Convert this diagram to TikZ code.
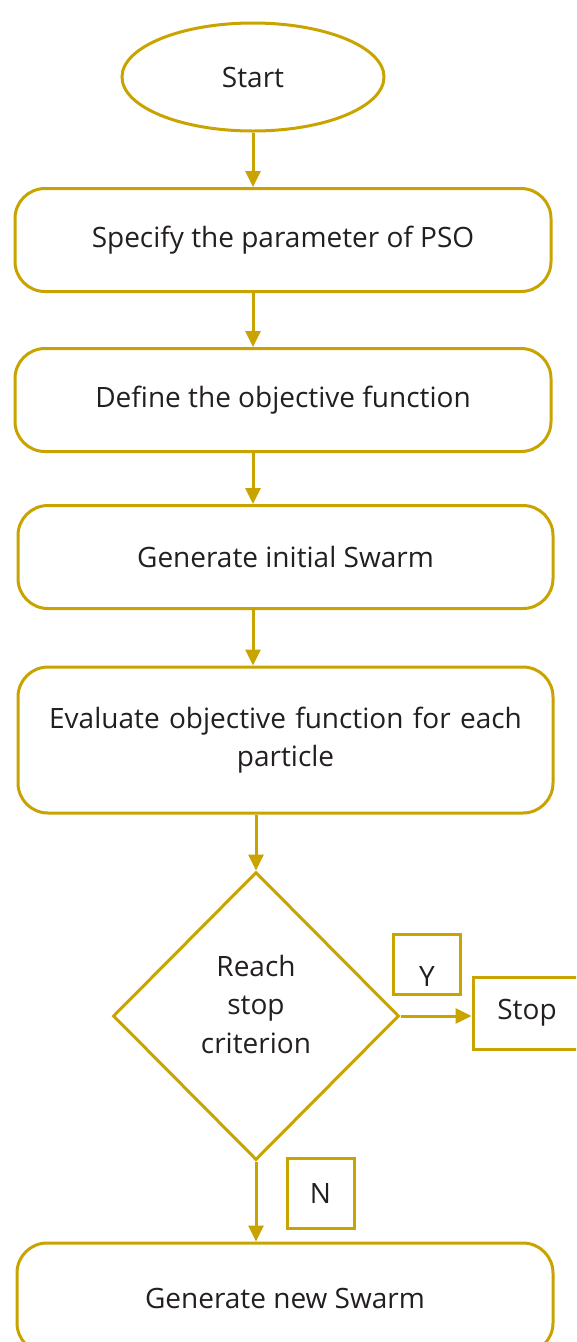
\documentclass[tikz,border=0pt]{standalone}
\usepackage{fontspec}
\setmainfont{Open Sans}
\usetikzlibrary{arrows.meta,shapes.geometric}
\definecolor{gold}{RGB}{201,163,0}
\definecolor{ink}{RGB}{35,31,32}
\begin{document}
\begin{tikzpicture}[x=1pt,y=-1pt,
  every node/.style={text=ink,font=\fontsize{28}{38.5}\selectfont},
  procbox/.style={draw=gold,line width=3pt,rounded corners=30pt,minimum width=536pt,minimum height=103pt,align=center,inner sep=0pt},
  smallbox/.style={draw=gold,line width=3pt,inner sep=0pt},
  flow/.style={draw=gold,line width=3pt,-{Triangle[length=16pt,width=15pt]}}]
\useasboundingbox (0,0) rectangle (576,1342);
\clip (0,0) rectangle (576,1342);
\node[draw=gold,line width=3pt,ellipse,minimum width=262pt,minimum height=108pt,inner sep=0pt] (start) at (253,77) {Start};
\node[procbox] (b1) at (283,240) {Specify the parameter of PSO};
\node[procbox] (b2) at (283,400) {Define the objective function};
\node[procbox,minimum width=535pt] (b3) at (285.5,557) {Generate initial Swarm};
\node[procbox,minimum width=535pt,minimum height=146pt,text width=530pt] (b4) at (285.5,740) {Evaluate objective function for each\\particle};
\node[draw=gold,line width=3pt,diamond,aspect=1,minimum width=286pt,minimum height=288pt,inner sep=0pt] (dec) at (256,1016) {};
\node[align=center] (dect) at (256,1004) {Reach\\stop\\criterion};
\node[smallbox,minimum width=67pt,minimum height=60pt] (y) at (427,964) {};
\node at (427,976) {Y};
\node[smallbox,minimum width=108pt,minimum height=72pt] (stop) at (527,1013) {Stop};
\node[smallbox,minimum width=67pt,minimum height=70pt] (n) at (320.5,1193) {N};
\node[procbox,minimum width=536pt,minimum height=110pt] (b5) at (285,1298) {Generate new Swarm};
\draw[flow] (start.south) -- (start.south |- b1.north);
\draw[flow] (b1.south -| start.south) -- (start.south |- b2.north);
\draw[flow] (b2.south -| start.south) -- (start.south |- b3.north);
\draw[flow] (b3.south -| start.south) -- (start.south |- b4.north);
\draw[flow] (b4.south -| dec.north) -- (dec.north);
\draw[flow] (dec.east) -- (dec.east -| stop.west);
\draw[flow] (dec.south) -- (dec.south |- b5.north);
\end{tikzpicture}
\end{document}
